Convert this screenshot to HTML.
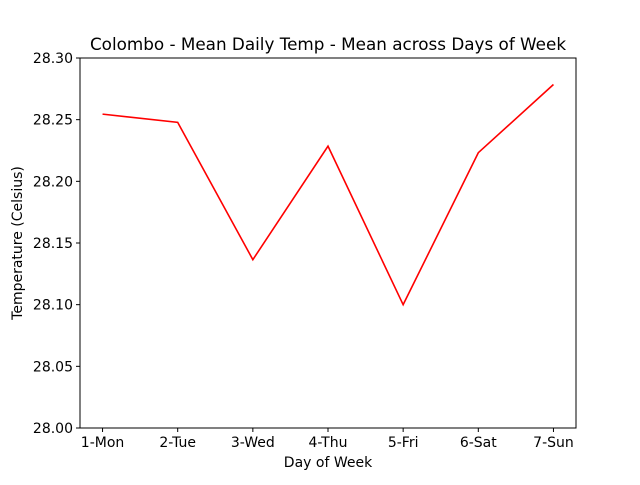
<!DOCTYPE html>
<html><head><meta charset="utf-8"><style>
body{margin:0;background:#fff;}
svg text{font-family:"DejaVu Sans","Liberation Sans",sans-serif;fill:#000;}
</style></head><body>
<svg id="chart" width="640" height="480">
<rect width="640" height="480" fill="#fff"/>
<text x="328" y="50" font-size="16.8" text-anchor="middle">Colombo - Mean Daily Temp - Mean across Days of Week</text>
<g id="xt"></g><g id="yt"></g>
<polyline id="line" fill="none" stroke="#ff0000" stroke-width="1.6"/>
<rect x="80" y="58" width="496" height="370" fill="none" stroke="#000" stroke-width="1"/>
<text x="328" y="467" font-size="14" text-anchor="middle">Day of Week</text>
<text transform="translate(22,243) rotate(-90)" font-size="14" text-anchor="middle">Temperature (Celsius)</text>
</svg>
<script>
const categories=["1-Mon","2-Tue","3-Wed","4-Thu","5-Fri","6-Sat","7-Sun"];
const temps=[28.2545,28.2478,28.1365,28.2285,28.1000,28.2232,28.2785];
const yTicks=[28.00,28.05,28.10,28.15,28.20,28.25,28.30];
const ns="http://www.w3.org/2000/svg";
const L=80,R=576,T=58,B=428;
const xs=i=>L+(i+0.3)/6.6*(R-L);
const ys=v=>B-(v-28.0)/0.3*(B-T);
const svg=document.getElementById('chart');
const xt=document.getElementById('xt'),yt=document.getElementById('yt');
categories.forEach((c,i)=>{
 const x=xs(i);
 const l=document.createElementNS(ns,'line');
 l.setAttribute('x1',x);l.setAttribute('x2',x);l.setAttribute('y1',B);l.setAttribute('y2',B+4);l.setAttribute('stroke','#000');
 
 
 xt.appendChild(l);
 const t=document.createElementNS(ns,'text');
 t.setAttribute('x',x);t.setAttribute('y',B+19);t.setAttribute('font-size','14');t.setAttribute('text-anchor','middle');t.textContent=c;
 
 
 xt.appendChild(t);
});
yTicks.forEach(v=>{
 const y=ys(v);
 const l=document.createElementNS(ns,'line');
 l.setAttribute('x1',L-4);l.setAttribute('x2',L);l.setAttribute('y1',y);l.setAttribute('y2',y);l.setAttribute('stroke','#000');
 
 
 yt.appendChild(l);
 const t=document.createElementNS(ns,'text');
 t.setAttribute('x',L-7);t.setAttribute('y',y+5);t.setAttribute('font-size','14');t.setAttribute('text-anchor','end');t.textContent=v.toFixed(2);
 
 
 yt.appendChild(t);
});
document.getElementById('line').setAttribute('points',temps.map((v,i)=>xs(i)+','+ys(v)).join(' '));
</script>
</body></html>
